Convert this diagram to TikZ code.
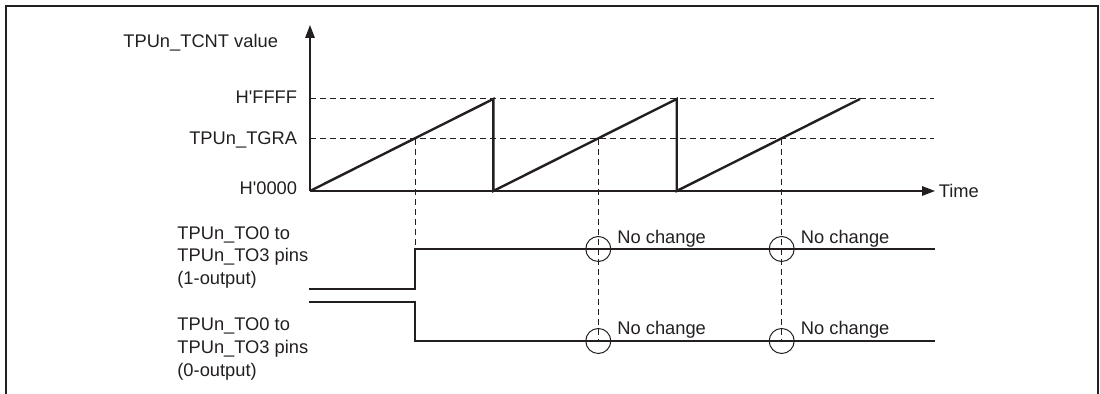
\documentclass[tikz,border=0pt]{standalone}
\usepackage{fontspec}
\setmainfont{Liberation Sans}
\usepackage{tikz}
\usetikzlibrary{positioning,arrows.meta}
\definecolor{ink}{RGB}{35,31,32}

\begin{document}
\begin{tikzpicture}[
      x=0.5pt, y=-0.5pt, ink,
      lbl/.style={font=\fontsize{9.15pt}{11.35pt}\selectfont, inner sep=0pt, text=ink},
      axis/.style={line width=0.6pt, -{Triangle[length=6.5pt, width=4.8pt]}},
      guide/.style={line width=0.5pt, dash pattern=on 3pt off 2pt},
      wave/.style={line width=1.2pt},
      nochg/.style={circle, draw, line width=0.5pt, minimum size=12.5pt, inner sep=0pt}
    ]
    \useasboundingbox (0,0) rectangle (1100,394);
    \draw[line width=1pt] (6,394) -- (6,6) -- (1098,6) -- (1098,394);

    % counter axes
    \coordinate (org)  at (310,191);
    \coordinate (ytop) at (310,25);
    \coordinate (tend) at (935,191);
    \draw[axis] (org) -- (ytop);
    \draw[axis] (org) -- (tend);
    \node[lbl, anchor=base west] (cntlbl) at (123,48) {TPUn\_TCNT value};
    \node[lbl, right=1.7pt of tend] (time) {Time};
    \node[lbl, anchor=base east] (ffff) at (297.5,104) {H\textquotesingle FFFF};
    \node[lbl, anchor=base east] (tgra) at (297.5,145) {TPUn\_TGRA};
    \node[lbl, anchor=base east] (zero) at (297.5,195) {H\textquotesingle 0000};

    \draw[guide] (310,99) -- (934,99);
    \draw[guide] (310,139) -- (934,139);

    % compare match points
    \coordinate (m1) at (415,139);
    \coordinate (m2) at (598.3,139);
    \coordinate (m3) at (781.7,139);

    \draw[wave, line join=miter] (org) -- (493.3,99) -- (493.3,191) -- (676.7,99)
      -- (676.7,191) -- (860,99);

    % output pins
    \node[lbl, align=left, anchor=west] (pin1) at (177,257.5)
      {TPUn\_TO0 to\\TPUn\_TO3 pins\\(1-output)};
    \node[lbl, align=left, anchor=west] (pin0) at (177,349)
      {TPUn\_TO0 to\\TPUn\_TO3 pins\\(0-output)};

    \draw[wave] (309,289) -- (415,289) -- (415,249) -- (935,249);
    \draw[wave] (309,302) -- (415,302) -- (415,341) -- (935,341);

    \node[nochg] (c1) at (598.3,249) {};
    \node[nochg] (c2) at (781.7,249) {};
    \node[nochg] (c3) at (598.3,341) {};
    \node[nochg] (c4) at (781.7,341) {};

    \draw[guide] (m1) -- (415,249);
    \draw[guide] (m2) -- (c3.center);
    \draw[guide] (m3) -- (c4.center);

    \node[lbl, anchor=base west] (nc1) at (617,244) {No change};
    \node[lbl, anchor=base west] (nc2) at (800.5,244) {No change};
    \node[lbl, anchor=base west] (nc3) at (617,335) {No change};
    \node[lbl, anchor=base west] (nc4) at (800.5,335) {No change};
  \end{tikzpicture}
\end{document}
